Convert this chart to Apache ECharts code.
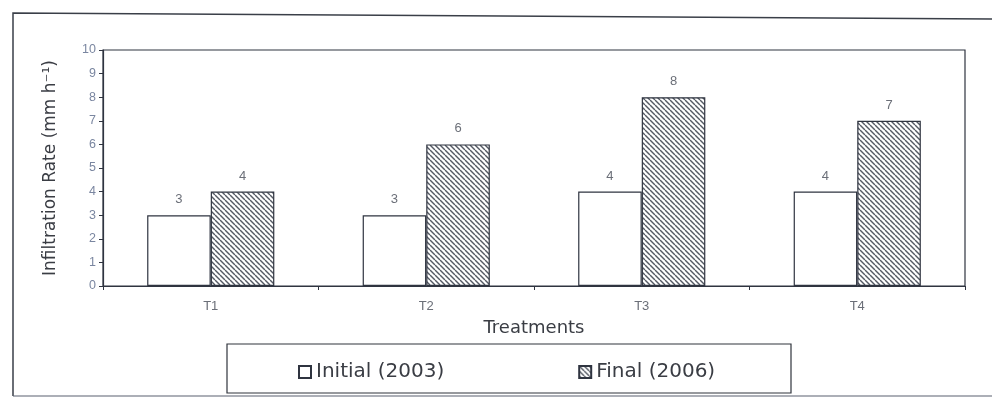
<!DOCTYPE html>
<html>
<head>
<meta charset="utf-8">
<script src="https://cdn.jsdelivr.net/npm/echarts@6/dist/echarts.min.js"></script>
<style>
  html, body { margin: 0; padding: 0; background: #ffffff; }
  #chart { width: 992px; height: 399px; }
</style>
</head>
<body>
<div id="chart"></div>
<script>
// Infiltration rate per treatment, initial vs final measurement
const treatments = ['T1', 'T2', 'T3', 'T4'];
const initial2003 = [3, 3, 4, 4];
const final2006 = [4, 6, 8, 7];
const seriesNames = ['Initial (2003)', 'Final (2006)'];

// Diagonal hatch fill for the final-year bars
function makeHatch() {
  const s = 5;
  const c = document.createElement('canvas');
  c.width = s; c.height = s;
  const g = c.getContext('2d');
  g.fillStyle = '#ffffff';
  g.fillRect(0, 0, s, s);
  g.strokeStyle = '#555a64';
  g.lineWidth = 1.4;
  for (let k = -1; k <= 1; k++) {
    g.beginPath();
    g.moveTo(k * s, 0);
    g.lineTo(k * s + s, s);
    g.stroke();
  }
  return c;
}

const chart = echarts.init(document.getElementById('chart'), null, { renderer: 'canvas' });

const labelStyle = {
  show: true,
  position: 'top',
  distance: 9,
  color: '#6b6f78',
  fontSize: 13,
  fontFamily: 'Liberation Sans'
};

chart.setOption({
  backgroundColor: '#ffffff',
  animation: false,
  grid: {
    left: 103, right: 27, top: 50, bottom: 113,
    show: true, borderColor: '#2f3440', borderWidth: 1.2
  },
  legend: {
    data: seriesNames,
    left: 293, top: 357,
    itemWidth: 12, itemHeight: 12,
    itemGap: 134,
    icon: 'rect',
    textStyle: { fontFamily: 'DejaVu Sans', fontSize: 20, color: '#3a3d44' }
  },
  graphic: [
    {
      type: 'polyline',
      shape: { points: [[13, 396], [13, 13], [992, 19]] },
      style: { stroke: '#3a3f48', lineWidth: 1.5, fill: null },
      silent: true
    },
    {
      type: 'line',
      shape: { x1: 13, y1: 396, x2: 992, y2: 396 },
      style: { stroke: '#5a6070', lineWidth: 1.2 },
      silent: true
    },
    {
      type: 'rect',
      shape: { x: 227, y: 344, width: 564, height: 49 },
      style: { stroke: '#30343c', lineWidth: 1.2, fill: null },
      silent: true,
      z: 1
    }
  ],
  xAxis: {
    type: 'category',
    data: treatments,
    name: 'Treatments',
    nameLocation: 'middle',
    nameGap: 33,
    nameTextStyle: { fontFamily: 'DejaVu Sans', fontSize: 18, color: '#3a3d44' },
    axisLine: { show: true, lineStyle: { color: '#2f3440', width: 1.2 } },
    axisTick: { show: true, length: 4, lineStyle: { color: '#2f3440' } },
    axisLabel: { margin: 14, fontSize: 13, color: '#6b6f78', fontFamily: 'Liberation Sans' },
    splitLine: { show: false }
  },
  yAxis: {
    type: 'value',
    min: 0, max: 10, interval: 1,
    name: 'Infiltration Rate (mm h\u207B\u00B9)',
    nameLocation: 'middle',
    nameGap: 44,
    nameTextStyle: { fontFamily: 'DejaVu Sans', fontSize: 17, color: '#3a3d44' },
    axisLine: { show: true, lineStyle: { color: '#2f3440', width: 1.2 } },
    axisTick: { show: true, length: 4, lineStyle: { color: '#2f3440' } },
    axisLabel: { margin: 7, fontSize: 12.5, color: '#7a86a0', fontFamily: 'Liberation Sans' },
    splitLine: { show: false }
  },
  series: [
    {
      name: seriesNames[0],
      type: 'bar',
      data: initial2003,
      barGap: '0%',
      barCategoryGap: '41%',
      itemStyle: { color: '#ffffff', borderColor: '#2f3440', borderWidth: 1.2 },
      label: labelStyle
    },
    {
      name: seriesNames[1],
      type: 'bar',
      data: final2006,
      itemStyle: {
        color: { image: makeHatch(), repeat: 'repeat' },
        borderColor: '#2f3440', borderWidth: 1.2
      },
      label: labelStyle
    }
  ]
});
</script>
</body>
</html>
